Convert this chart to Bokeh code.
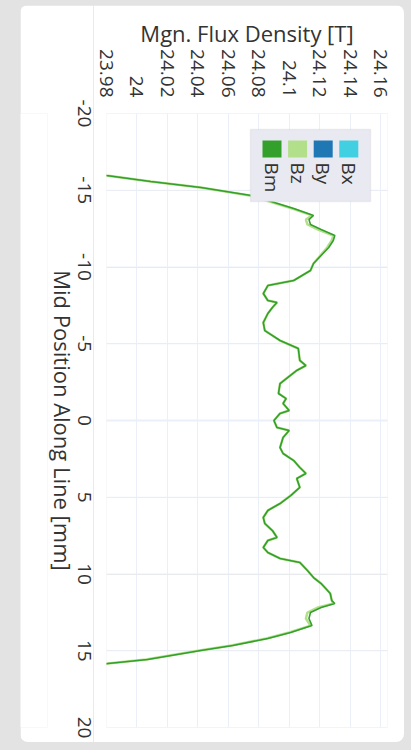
import math
from bokeh.plotting import figure
from bokeh.layouts import row
from bokeh.models import (Range1d, CustomJSTickFormatter, BoxAnnotation, Label, Span,
                          LinearAxis, FixedTicker)
from bokeh.embed import file_html
from bokeh.resources import INLINE

# ---------------- data ----------------
position = [-16.16, -15.96, -15.57, -15.18, -14.66, -14.33, -13.81, -13.36, -13.09, -12.77,
            -12.44, -12.05, -11.73, -11.27, -10.23, -9.77, -9.12, -8.79, -8.27, -7.82,
            -7.69, -7.36, -6.97, -6.38, -5.86, -5.21, -4.69, -3.91, -3.58, -3.26,
            -2.80, -2.41, -1.76, -1.43, -1.11, -0.65, -0.46, 0.00, 0.46, 0.65,
            1.11, 1.76, 2.15, 2.61, 3.06, 3.45, 3.78, 4.36, 4.89, 5.41,
            5.86, 6.32, 6.71, 7.17, 7.62, 7.82, 8.27, 8.60, 8.99, 9.25,
            9.77, 10.23, 10.62, 10.94, 11.27, 11.73, 11.92, 12.18, 12.51, 12.90,
            13.36, 13.81, 14.20, 14.66, 14.98, 15.57, 15.83, 15.96]

bm = [23.967, 23.980, 24.009, 24.042, 24.075, 24.086, 24.103, 24.116, 24.113, 24.114,
      24.121, 24.130, 24.129, 24.126, 24.116, 24.114, 24.103, 24.086, 24.083, 24.086,
      24.092, 24.089, 24.086, 24.083, 24.084, 24.094, 24.106, 24.107, 24.111, 24.105,
      24.099, 24.094, 24.093, 24.098, 24.096, 24.100, 24.094, 24.090, 24.092, 24.100,
      24.096, 24.094, 24.096, 24.103, 24.107, 24.111, 24.105, 24.107, 24.101, 24.094,
      24.086, 24.083, 24.084, 24.089, 24.092, 24.086, 24.083, 24.086, 24.094, 24.107,
      24.112, 24.116, 24.121, 24.124, 24.127, 24.128, 24.130, 24.121, 24.114, 24.113,
      24.115, 24.101, 24.086, 24.063, 24.042, 24.007, 23.981, 23.968]

bz = [23.967, 23.980, 24.009, 24.042, 24.074, 24.085, 24.102, 24.115, 24.111, 24.112,
      24.119, 24.129, 24.128, 24.125, 24.116, 24.114, 24.103, 24.086, 24.083, 24.086,
      24.092, 24.089, 24.086, 24.083, 24.084, 24.094, 24.106, 24.107, 24.111, 24.105,
      24.099, 24.094, 24.093, 24.098, 24.096, 24.100, 24.094, 24.090, 24.092, 24.100,
      24.096, 24.094, 24.096, 24.103, 24.107, 24.111, 24.105, 24.107, 24.101, 24.094,
      24.086, 24.083, 24.084, 24.089, 24.092, 24.086, 24.083, 24.086, 24.094, 24.107,
      24.112, 24.116, 24.121, 24.124, 24.127, 24.128, 24.129, 24.119, 24.112, 24.111,
      24.114, 24.100, 24.085, 24.062, 24.041, 24.006, 23.981, 23.968]

series_names = ["Bm", "Bz", "By", "Bx"]
series_colors = ["#33a02c", "#b2df8a", "#1f78b4", "#41d0e2"]

flux_ticks = [23.98, 24.00, 24.02, 24.04, 24.06, 24.08, 24.10, 24.12, 24.14, 24.16]
flux_tick_labels = ["23.98", "24", "24.02", "24.04", "24.06", "24.08", "24.1",
                    "24.12", "24.14", "24.16"]
pos_ticks = [-20, -15, -10, -5, 0, 5, 10, 15, 20]
pos_tick_labels = ["-20", "-15", "-10", "-5", "0", "5", "10", "15", "20"]

flux_title = "Mgn. Flux Density [T]"
pos_title = "Mid Position Along Line [mm]"

# ---------------- layout constants (page px) ----------------
W, H = 411, 750
CL, CT, CR, CB = 20, 5, 404, 742               # white card
FL, FT, FR, FB = 106, 113, 387, 727            # plot frame
SPLIT = 93                                      # where the axis strip meets the plot
STRIP_BORDER = 46                               # room for the two strip axes
FONT = "Open Sans"
TXT = "#333333"
GRID = "#ebf0f8"
TITLE_SIZE = "22px"
TICK_SIZE = "19px"

def sx(cx):  # page x -> screen units (relative to frame left)
    return cx - FL

def sy(cy):  # page y -> screen units (relative to frame bottom, upward)
    return FB - cy

y_range = Range1d(20, -20)

# ---------------- main plot ----------------
p = figure(frame_width=FR - FL, frame_height=FB - FT,
           x_range=Range1d(23.98, 24.1646), y_range=y_range,
           x_axis_location="above", y_axis_location=None,
           min_border_left=FL - SPLIT, min_border_top=FT - CT,
           min_border_right=CR - FR, min_border_bottom=CB - FB,
           output_backend="svg", toolbar_location=None)
p.margin = (CT, W - CR, H - CB, 0)
p.styles = {"border-radius": "0 8px 8px 0", "overflow": "hidden"}
p.border_fill_color = "white"
p.background_fill_color = "white"
p.outline_line_color = None

xa = p.xaxis[0]
xa.ticker = flux_ticks
xa.formatter = CustomJSTickFormatter(
    args=dict(tvals=flux_ticks, tlabels=flux_tick_labels),
    code="""let b = 0;
for (let i = 1; i < tvals.length; i++) {
  if (Math.abs(tvals[i] - tick) < Math.abs(tvals[b] - tick)) b = i;
}
return tlabels[b];""")
xa.major_label_orientation = -math.pi / 2
xa.axis_line_color = None
xa.major_tick_line_color = None
xa.minor_tick_line_color = None
xa.major_label_standoff = 10
xa.major_label_text_font = FONT
xa.major_label_text_font_size = TICK_SIZE
xa.major_label_text_color = TXT
xa.axis_label = flux_title
xa.axis_label_standoff = -2
xa.axis_label_text_font = FONT
xa.axis_label_text_font_style = "normal"
xa.axis_label_text_font_size = TITLE_SIZE
xa.axis_label_text_color = TXT

p.xgrid.ticker = flux_ticks
p.xgrid.grid_line_color = GRID
p.add_layout(Span(location=0, dimension="width", line_color=GRID, line_width=2,
                  level="underlay"))
for t in pos_ticks:
    p.add_layout(Span(location=t, dimension="width", line_color=GRID, line_width=1,
                      level="underlay"))

# curves
p.line(bz, position, line_color=series_colors[1], line_width=2.5)
p.line(bm, position, line_color=series_colors[0], line_width=1.6)

# legend
p.add_layout(BoxAnnotation(left=sx(250), right=sx(370), top=sy(129), bottom=sy(201),
                           left_units="screen", right_units="screen",
                           top_units="screen", bottom_units="screen",
                           fill_color="#e9eaf1", fill_alpha=1, line_color="#c9cbd3",
                           line_width=1.5, level="annotation"))
for i, (name, col) in enumerate(zip(series_names, series_colors)):
    x0 = 262 + i * 25.6
    p.add_layout(BoxAnnotation(left=sx(x0), right=sx(x0 + 19), top=sy(140), bottom=sy(157),
                               left_units="screen", right_units="screen",
                               top_units="screen", bottom_units="screen",
                               fill_color=col, fill_alpha=1, line_color=None,
                               level="annotation"))
    p.add_layout(Label(x=sx(x0 + 9.5), y=sy(162), x_units="screen", y_units="screen",
                       text=name, angle=-math.pi / 2, text_align="left",
                       text_baseline="middle", text_font=FONT, text_font_size=TICK_SIZE,
                       text_color=TXT))

# ---------------- position-axis strip (left of the plot) ----------------
lp = figure(width=SPLIT - CL, frame_height=FB - FT,
            x_range=Range1d(0, 1), y_range=y_range,
            x_axis_location=None, y_axis_location=None,
            min_border_left=0, min_border_right=STRIP_BORDER,
            min_border_top=FT - CT, min_border_bottom=CB - FB,
            output_backend="svg", toolbar_location=None)
lp.margin = (CT, 0, H - CB, CL)
lp.styles = {"border-radius": "8px 0 0 8px", "overflow": "hidden"}
lp.border_fill_color = "white"
lp.background_fill_color = "white"
lp.outline_line_color = None
lp.xgrid.visible = False
lp.ygrid.visible = False
for r in list(lp.center):
    r.visible = False

title_axis = LinearAxis(ticker=FixedTicker(ticks=[]), axis_label=pos_title,
                        axis_label_standoff=0, major_label_standoff=0,
                        axis_line_color=None, major_tick_line_color=None,
                        minor_tick_line_color=None,
                        axis_label_text_font=FONT, axis_label_text_font_style="normal",
                        axis_label_text_font_size=TITLE_SIZE, axis_label_text_color=TXT)
tick_axis = LinearAxis(ticker=FixedTicker(ticks=pos_ticks),
                       major_label_overrides=dict(zip(pos_ticks, pos_tick_labels)),
                       major_label_orientation="vertical", major_label_standoff=-9,
                       axis_line_color=None, major_tick_line_color=None,
                       minor_tick_line_color=None,
                       major_label_text_font=FONT, major_label_text_font_size=TICK_SIZE,
                       major_label_text_color=TXT)
lp.add_layout(title_axis, "right")
lp.add_layout(tick_axis, "right")

page = row(lp, p, styles={"background-color": "#e3e3e3"})
open("out.html", "w").write(file_html(page, INLINE))
